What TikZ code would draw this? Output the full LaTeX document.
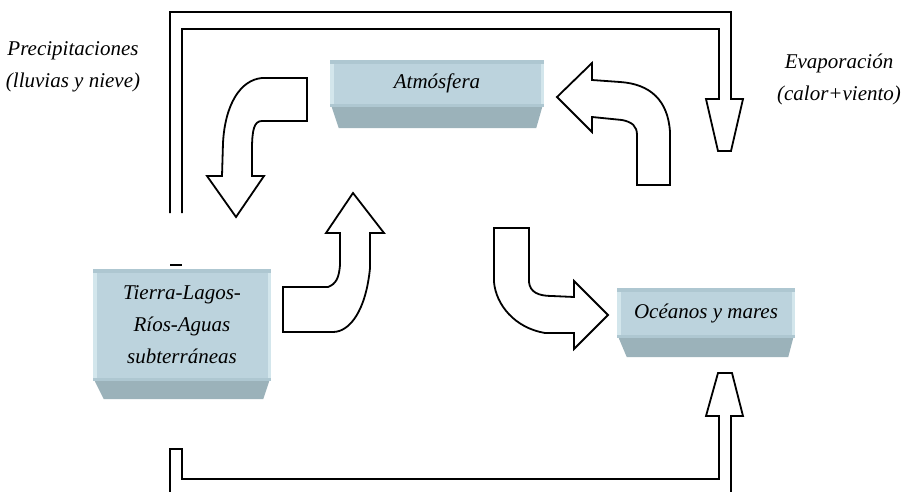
\documentclass[tikz,border=0pt]{standalone}
\usepackage{fontspec}
\setmainfont{Liberation Serif}
\usepackage{tikz}
\usepackage{xcolor}
\usetikzlibrary{calc}
\definecolor{boxface}{HTML}{BCD3DD}
\definecolor{boxtop}{HTML}{AEC7D1}
\definecolor{boxedge}{HTML}{D3E6EC}
\definecolor{boxbase}{HTML}{9BB2BA}
% strips and slanted base of a box: name, depth, left inset, right inset
\newcommand{\shadebox}[4]{%
  \fill[boxtop] (#1.north west) rectangle ($(#1.north east)+(0,4)$);
  \fill[boxtop] ($(#1.south west)+(0,-3)$) rectangle (#1.south east);
  \fill[boxedge] ($(#1.north west)+(0,4)$) rectangle ($(#1.south west)+(4,-3)$);
  \fill[boxedge] ($(#1.north east)+(-3,4)$) rectangle ($(#1.south east)+(0,-3)$);
  \fill[boxbase] ($(#1.south west)+(2,0)$) -- ($(#1.south east)+(-2,0)$)
    -- ($(#1.south east)+(-#4,#2)$) -- ($(#1.south west)+(#3,#2)$) -- cycle;}

\begin{document}
\begin{tikzpicture}[x=1pt,y=-1pt]
        \tikzstyle{every node}=[font=\fontsize{21}{32}\selectfont\itshape, text=black, align=center]
        \tikzstyle{face}=[fill=boxface, inner sep=0pt]
        \tikzstyle{flow}=[draw, fill=white, line width=1.8pt, line join=miter]
        \useasboundingbox (0,0) rectangle (905,492);
        % Reservoirs
        \node[face, minimum width=214pt, minimum height=47pt] (atm) at (437,83.5) {Atmósfera};
        \node[face, minimum width=178pt, minimum height=112pt] (tierra) at (182,325) {Tierra-Lagos-\\Ríos-Aguas\\subterráneas};
        \node[face, minimum width=178pt, minimum height=50pt] (mar) at (706,313) {Océanos y mares};
        \shadebox{atm}{21}{9}{8}
        \shadebox{tierra}{18}{11}{8}
        \shadebox{mar}{19}{10}{7}
        % Side labels
        \node (prec) at (73,66.5) {Precipitaciones\\(lluvias y nieve)};
        \node (evap) at (839,79) {Evaporación\\(calor+viento)};
        % Curved block arrows
        \draw[flow] (307,78) -- (262,78) .. controls (240,80) and (225,105) .. (223,143)
            -- (222,176) -- (207,176) -- (236,217) -- (264,176) -- (252,176) -- (252,150)
            .. controls (252,130) and (254,121) .. (262,121) -- (307,121) -- cycle;
        \draw[flow] (283,287) -- (328,287) .. controls (336,284) and (339,278) .. (340,265)
            -- (340,233) -- (326,233) -- (353,193) -- (384,233) -- (370,233) -- (370,268)
            .. controls (366,310) and (350,332) .. (333,332) -- (283,332) -- cycle;
        \draw[flow] (494,228) -- (529,228) -- (529,282) .. controls (530,292) and (538,296) .. (552,296)
            -- (574,297) -- (574,281) -- (608,315) -- (574,349) -- (574,333) -- (545,333)
            .. controls (515,328) and (496,305) .. (494,282) -- cycle;
        \draw[flow] (637,185) -- (670,185) -- (670,132) .. controls (668,100) and (650,84) .. (620,82)
            -- (592,80) -- (592,63) -- (557,97) -- (592,132) -- (592,117) -- (622,120)
            .. controls (632,122) and (637,126) .. (637,135) -- cycle;
        % Outer loops
        \draw[flow, fill=none] (170,213) -- (170,12) -- (731,12) -- (731,99) -- (743,99)
            -- (731,151) -- (718,151) -- (706,99) -- (719,99) -- (719,29) -- (182,29) -- (182,213);
        \draw[line width=1.8pt] (170,265) -- (182,265);
        \draw[flow, fill=none] (170,492) -- (170,449) -- (182,449) -- (182,479) -- (719,479)
            -- (719,416) -- (706,416) -- (718,373) -- (732,373) -- (743,416) -- (731,416) -- (731,492);
\end{tikzpicture}
\end{document}
